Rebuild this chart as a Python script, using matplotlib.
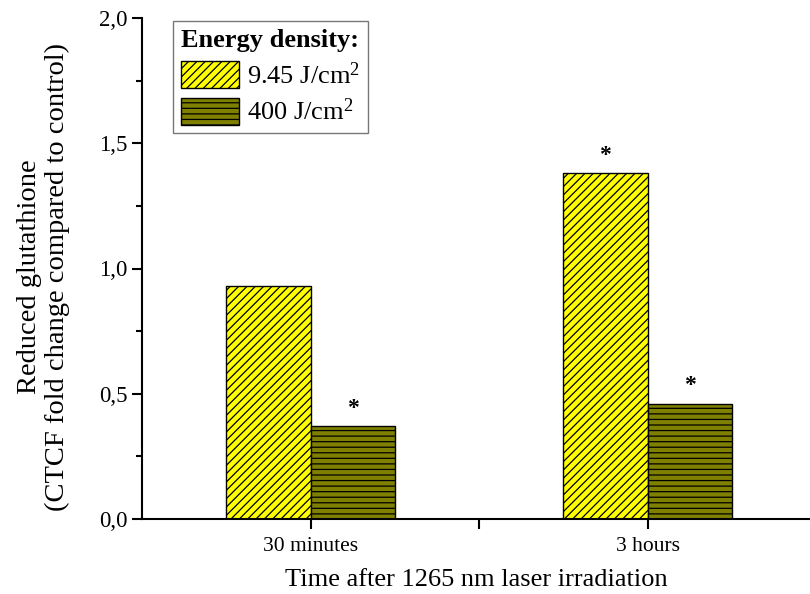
import matplotlib
matplotlib.use("Agg")
import matplotlib.pyplot as plt
from matplotlib.ticker import FuncFormatter, MultipleLocator, FixedLocator, NullFormatter
import numpy as np

plt.rcParams['font.family'] = ['Liberation Serif', 'DejaVu Serif']
plt.rcParams['mathtext.fontset'] = 'custom'
plt.rcParams['mathtext.rm'] = 'Liberation Serif'
plt.rcParams['mathtext.it'] = 'Liberation Serif:italic'
plt.rcParams['hatch.linewidth'] = 0.9

groups = ["30 minutes", "3 hours"]
low_dose = [0.93, 1.38]
high_dose = [0.37, 0.46]
low_sig = [False, True]
high_sig = [True, True]
series_labels = ["9.45 J/cm$^2$", "400 J/cm$^2$"]

fig = plt.figure(figsize=(8.1, 5.94), dpi=100)
ax = fig.add_axes([142 / 810, 75 / 594, 668 / 810, 501 / 594])

x = np.arange(len(groups))
w = 0.25
ax.bar(x - w / 2, low_dose, w, color='#FFFF00', edgecolor='black',
       hatch='////', linewidth=1.0, label=series_labels[0])
ax.bar(x + w / 2, high_dose, w, color='#808000', edgecolor='black',
       hatch='---', linewidth=1.0, label=series_labels[1])

for xi, v, s in zip(x - w / 2, low_dose, low_sig):
    if s:
        ax.text(xi, v + 0.03, '*', ha='center', va='bottom', fontsize=17, fontweight='bold')
for xi, v, s in zip(x + w / 2, high_dose, high_sig):
    if s:
        ax.text(xi, v + 0.03, '*', ha='center', va='bottom', fontsize=17, fontweight='bold')

ax.set_xlim(-0.5, 1.482)
ax.set_ylim(0, 2.0)
ax.set_xticks(x)
ax.set_xticklabels(groups, fontsize=15.5)
ax.xaxis.set_minor_locator(FixedLocator([0.5]))
ax.xaxis.set_minor_formatter(NullFormatter())
ax.yaxis.set_major_locator(MultipleLocator(0.5))
ax.yaxis.set_minor_locator(MultipleLocator(0.25))
ax.yaxis.set_major_formatter(FuncFormatter(lambda v, p: f"{v:.1f}".replace('.', ',')))
ax.tick_params(axis='y', labelsize=16.5)
ax.tick_params(which='both', direction='out', width=1.5)
ax.tick_params(which='major', length=7)
ax.tick_params(axis='y', which='minor', length=4)
ax.tick_params(axis='x', which='both', length=7, pad=6)

for side in ['top', 'right']:
    ax.spines[side].set_visible(False)
for side in ['left', 'bottom']:
    ax.spines[side].set_linewidth(1.5)

ax.set_xlabel("Time after 1265 nm laser irradiation", fontsize=19, labelpad=9)
ax.set_ylabel("Reduced glutathione\n(CTCF fold change compared to control)",
              fontsize=20.5, linespacing=1.12)
ax.yaxis.set_label_coords(-0.108, 0.483)

leg = ax.legend(loc='upper left', bbox_to_anchor=(31 / 668, 0.994), title="Energy density:",
                title_fontproperties={'weight': 'bold', 'size': 19}, fontsize=19,
                frameon=True, fancybox=False, edgecolor='#555555',
                handlelength=2.2, handleheight=1.2, handletextpad=0.3,
                borderpad=0.3, labelspacing=0.35, borderaxespad=0)
leg.get_frame().set_linewidth(1.0)
leg._legend_box.align = "left"

fig.savefig("out.png", dpi=100)
